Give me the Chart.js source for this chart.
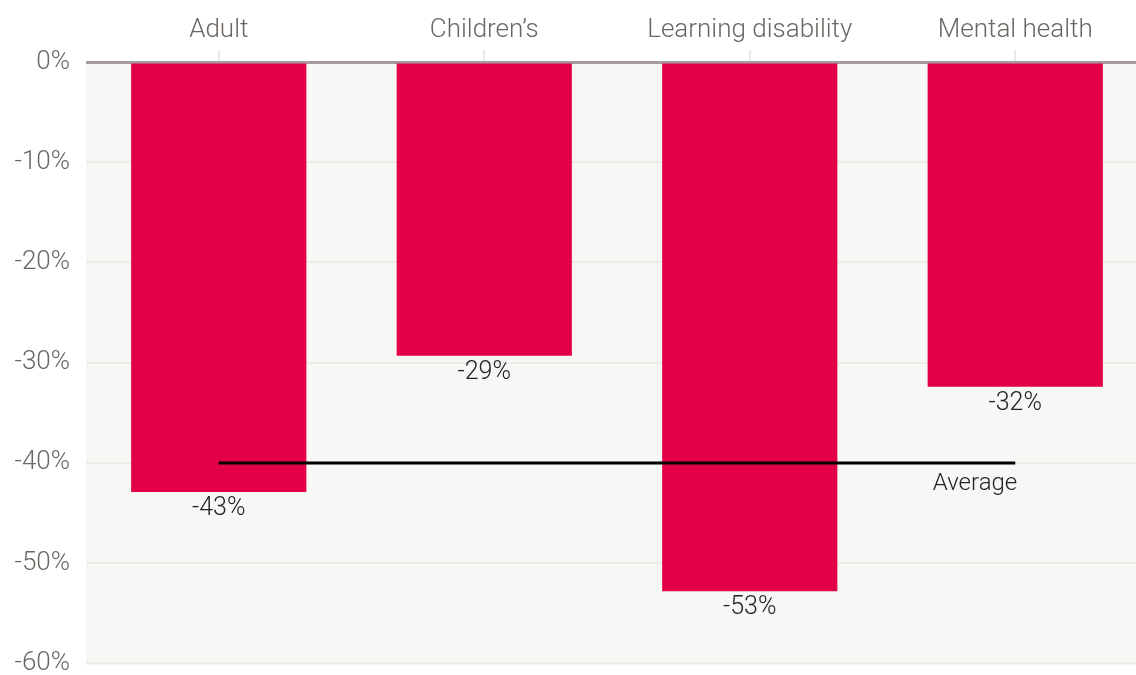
<!DOCTYPE html>
<html>
<head>
<meta charset="utf-8">
<script src="https://cdn.jsdelivr.net/npm/chart.js@4.4.1/dist/chart.umd.min.js"></script>
<style>
  html, body { margin: 0; padding: 0; background: #fff; overflow: hidden; }
  #wrap { width: 1150px; height: 695px; }
</style>
</head>
<body>
<div id="wrap"><canvas id="grafico"></canvas></div>
<script>
// Datos
const categorias = ["Adult", "Children\u2019s", "Learning disability", "Mental health"];
const valores = [-42.9, -29.3, -52.8, -32.4];
const promedio = [-40, -40, -40, -40];
const ticksY = [0, -10, -20, -30, -40, -50, -60];

// Fondo gris del área de trazado
const fondo = {
  id: "fondo",
  beforeDraw(chart) {
    const { ctx, chartArea: a } = chart;
    ctx.save();
    ctx.fillStyle = "#f7f7f5";
    ctx.fillRect(a.left, a.top, a.right - a.left, a.bottom - a.top + 2);
    ctx.restore();
  }
};

// Etiquetas de valor bajo cada barra y texto "Average"
const etiquetas = {
  id: "etiquetas",
  afterDatasetsDraw(chart) {
    const { ctx } = chart;
    const meta = chart.getDatasetMeta(0);
    ctx.save();
    ctx.font = "300 25px Roboto";
    ctx.fillStyle = "#222";
    ctx.textAlign = "center";
    ctx.textBaseline = "middle";
    meta.data.forEach((bar, i) => {
      ctx.fillText(Math.round(valores[i]) + "%", bar.x, bar.y + 17);
    });
    const linea = chart.getDatasetMeta(1);
    const ultimo = linea.data[linea.data.length - 1];
    ctx.font = "300 24px Roboto";
    ctx.textAlign = "right";
    ctx.fillText("Average", ultimo.x + 2, ultimo.y + 21);
    ctx.restore();
  }
};

new Chart(document.getElementById("grafico"), {
  type: "bar",
  data: {
    labels: categorias,
    datasets: [
      {
        type: "bar",
        data: valores,
        backgroundColor: "#e40046",
        barPercentage: 0.66,
        categoryPercentage: 1,
        order: 2
      },
      {
        type: "line",
        data: promedio,
        borderColor: "#000",
        borderWidth: 3,
        pointRadius: 0,
        fill: false,
        order: 1
      }
    ]
  },
  options: {
    responsive: true,
    maintainAspectRatio: false,
    animation: false,
    layout: { padding: { left: 0, right: 2, top: 0, bottom: 11 } },
    plugins: {
      legend: { display: false },
      tooltip: { enabled: false }
    },
    scales: {
      x: {
        position: "top",
        grid: {
          offset: false,
          drawOnChartArea: false,
          drawTicks: true,
          tickLength: 12,
          color: "#ebe9e5",
          lineWidth: 2
        },
        border: { display: false },
        ticks: {
          color: "#6b6661",
          font: { family: "Roboto", weight: "300", size: 26 },
          padding: 4
        },
        afterFit(scale) { scale.height = 62; }
      },
      y: {
        min: -60,
        max: 0,
        afterBuildTicks(scale) { scale.ticks = ticksY.map(v => ({ value: v })); },
        grid: {
          drawTicks: false,
          color: ctx => ctx.tick && ctx.tick.value === 0 ? "#a59c9b" : "#ecebe8",
          lineWidth: ctx => ctx.tick && ctx.tick.value === 0 ? 3 : 2
        },
        border: { display: false },
        ticks: {
          color: "#6b6661",
          font: { family: "Roboto", weight: "300", size: 26 },
          padding: 16,
          callback: v => v + "%"
        },
        afterFit(scale) { scale.width = 86; }
      }
    }
  },
  plugins: [fondo, etiquetas]
});
</script>
</body>
</html>
